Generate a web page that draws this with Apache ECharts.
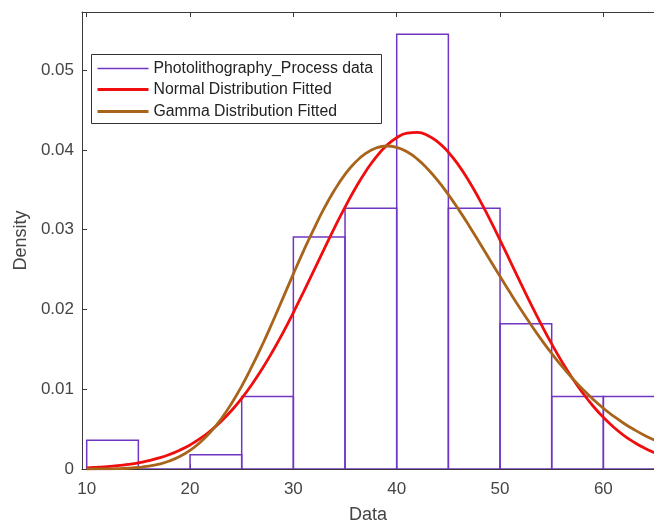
<!DOCTYPE html>
<html><head><meta charset="utf-8">
<script src="https://cdn.jsdelivr.net/npm/echarts@6/dist/echarts.min.js"></script>
<style>html,body{margin:0;padding:0;background:#fff}#c{width:654px;height:525px}</style>
</head><body><div id="c"></div>
<script>
const binEdges = [10, 15, 20, 25, 30, 35, 40, 45, 50, 55, 60, 65];
const binDensity = [0.0036, 0, 0.0018, 0.0091, 0.0291, 0.0327, 0.0545, 0.0327, 0.0182, 0.0091, 0.0091];
const curveX = [10,11,12,13,14,15,16,17,18,19,20,21,22,23,24,25,26,27,28,29,30,31,32,33,34,35,36,37,38,39,40,41,42,43,44,45,46,47,48,49,50,51,52,53,54,55,56,57,58,59,60,61,62,63,64,65,66];
const normalFit = [0.00015,0.00022,0.00030,0.00042,0.00058,0.00078,0.00105,0.00139,0.00182,0.00236,0.00302,0.00383,0.00481,0.00596,0.00731,0.00886,0.01062,0.01259,0.01476,0.01711,0.01962,0.02224,0.02493,0.02764,0.03029,0.03284,0.03520,0.03731,0.03911,0.04053,0.04154,0.04210,0.04220,0.04182,0.04099,0.03972,0.03807,0.03608,0.03381,0.03133,0.02871,0.02601,0.02331,0.02065,0.01810,0.01568,0.01343,0.01138,0.00954,0.00790,0.00647,0.00524,0.00420,0.00333,0.00261,0.00202,0.00155];
const gammaFit = [0.000002,0.000007,0.000019,0.000045,0.000096,0.00019,0.00035,0.00061,0.00100,0.00156,0.00233,0.00336,0.00466,0.00627,0.00819,0.01040,0.01289,0.01558,0.01847,0.02146,0.02447,0.02739,0.03015,0.03273,0.03500,0.03694,0.03845,0.03957,0.04025,0.04050,0.04033,0.03977,0.03886,0.03762,0.03613,0.03441,0.03252,0.03051,0.02841,0.02628,0.02415,0.02206,0.02003,0.01808,0.01622,0.01448,0.01286,0.01137,0.00999,0.00875,0.00762,0.00661,0.00571,0.00492,0.00421,0.00360,0.00306];
const xTicks = [10, 20, 30, 40, 50, 60];
const yTicks = [0, 0.01, 0.02, 0.03, 0.04, 0.05];
const seriesNames = ['Photolithography_Process data', 'Normal Distribution Fitted', 'Gamma Distribution Fitted'];
const xTitle = 'Data';
const yTitle = 'Density';

const FONT = '"Liberation Sans", Arial, Helvetica, sans-serif';
const AX = '#3a3a3a';
const LBL = '#454545';
const PURPLE = '#7035c2';
const RED = '#f00d0d';
const BROWN = '#a8641a';

const histData = binDensity.map((d, i) => [binEdges[i], binEdges[i + 1], d]);
const zip = (xs, ys) => xs.map((x, i) => [x, ys[i]]);

const chart = echarts.init(document.getElementById('c'), null, { renderer: 'canvas' });
chart.setOption({
  animation: false,
  backgroundColor: '#fff',
  grid: { left: 82, top: 12, width: 572, height: 457, containLabel: false, outerBoundsMode: 'none' },
  xAxis: [{
    type: 'value', min: 9.545, max: 64.9, position: 'bottom',
    name: xTitle, nameLocation: 'middle', nameGap: 37,
    nameTextStyle: { fontFamily: FONT, fontSize: 18, color: LBL },
    axisLine: { show: true, onZero: false, lineStyle: { color: AX, width: 1 } },
    axisTick: { show: true, inside: true, length: 5, customValues: xTicks, lineStyle: { color: AX } },
    axisLabel: { customValues: xTicks, fontFamily: FONT, fontSize: 17, color: LBL, margin: 12 },
    splitLine: { show: false }
  }, {
    type: 'value', min: 9.545, max: 64.9, position: 'top',
    axisLine: { show: true, onZero: false, lineStyle: { color: AX, width: 1 } },
    axisTick: { show: true, inside: true, length: 5, customValues: xTicks, lineStyle: { color: AX } },
    axisLabel: { show: false },
    splitLine: { show: false }
  }],
  yAxis: [{
    type: 'value', min: 0, max: 0.0573, position: 'left',
    name: yTitle, nameLocation: 'middle', nameGap: 40, nameRotate: 90,
    nameTextStyle: { fontFamily: FONT, fontSize: 18, color: LBL },
    axisLine: { show: true, onZero: false, lineStyle: { color: AX, width: 1 } },
    axisTick: { show: true, inside: true, length: 5, customValues: yTicks, lineStyle: { color: AX } },
    axisLabel: {
      customValues: yTicks, fontFamily: FONT, fontSize: 17, color: LBL, margin: 8,
      formatter: v => (v === 0 ? '0' : String(+v.toFixed(2)))
    },
    splitLine: { show: false }
  }],
  series: [{
    name: seriesNames[0],
    type: 'custom',
    clip: true,
    xAxisIndex: 0, yAxisIndex: 0,
    data: histData,
    encode: { x: [0, 1], y: 2 },
    renderItem: (params, api) => {
      const p0 = api.coord([api.value(0), 0]);
      const p1 = api.coord([api.value(1), api.value(2)]);
      return {
        type: 'rect',
        shape: { x: p0[0], y: p1[1], width: p1[0] - p0[0], height: p0[1] - p1[1] },
        style: { fill: 'none', stroke: PURPLE, lineWidth: 1.5 }
      };
    },
    z: 2
  }, {
    name: seriesNames[1],
    type: 'line', showSymbol: false, smooth: true, clip: true,
    data: zip(curveX, normalFit),
    lineStyle: { color: RED, width: 2.8 },
    itemStyle: { color: RED },
    z: 3
  }, {
    name: seriesNames[2],
    type: 'line', showSymbol: false, smooth: true, clip: true,
    data: zip(curveX, gammaFit),
    lineStyle: { color: BROWN, width: 2.8 },
    itemStyle: { color: BROWN },
    z: 4
  }],
  graphic: [{
    type: 'group', left: 91, top: 54, z: 100,
    children: [
      { type: 'rect', shape: { x: 0, y: 0, width: 290, height: 69 }, style: { fill: '#fff', stroke: '#333', lineWidth: 1 } },
      { type: 'line', shape: { x1: 6, y1: 14, x2: 57, y2: 14 }, style: { stroke: PURPLE, lineWidth: 1.5 } },
      { type: 'line', shape: { x1: 6, y1: 35, x2: 57, y2: 35 }, style: { stroke: RED, lineWidth: 3 } },
      { type: 'line', shape: { x1: 6, y1: 57, x2: 57, y2: 57 }, style: { stroke: BROWN, lineWidth: 3 } },
      { type: 'text', x: 62, y: 14, style: { text: seriesNames[0], font: '15.8px ' + FONT, fill: '#222', verticalAlign: 'middle' } },
      { type: 'text', x: 62, y: 35, style: { text: seriesNames[1], font: '15.8px ' + FONT, fill: '#222', verticalAlign: 'middle' } },
      { type: 'text', x: 62, y: 57, style: { text: seriesNames[2], font: '15.8px ' + FONT, fill: '#222', verticalAlign: 'middle' } }
    ]
  }]
});
</script></body></html>
